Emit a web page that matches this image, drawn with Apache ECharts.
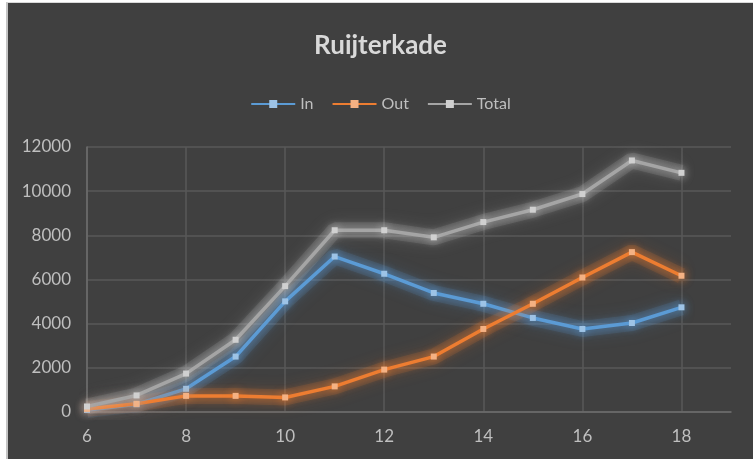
<!DOCTYPE html>
<html>
<head>
<meta charset="utf-8">
<script src="https://cdn.jsdelivr.net/npm/echarts@6/dist/echarts.min.js"></script>
<style>
  body { margin: 0; background: #fff; }
  #chart {
    position: absolute;
    left: 6px;
    top: 2px;
    width: 745px;
    height: 456px;
    border-left: 2px solid #c4c4c4;
    border-top: 1px solid #d9d9d9;
  }
</style>
</head>
<body>
<div id="chart"></div>
<script>
// hour of day
const hours = [6, 7, 8, 9, 10, 11, 12, 13, 14, 15, 16, 17, 18]
const inValues = [90, 350, 1050, 2510, 5010, 7040, 6260, 5390, 4900, 4260, 3760, 4030, 4740]
const outValues = [140, 370, 730, 730, 660, 1160, 1920, 2510, 3760, 4900, 6090, 7240, 6170]
const totalValues = [250, 750, 1740, 3270, 5700, 8230, 8230, 7910, 8600, 9160, 9870, 11390, 10830]
const yTicks = [0, 2000, 4000, 6000, 8000, 10000, 12000]

const labelColor = '#bfbfbf'
const gridColor = '#595959'
const axisColor = '#6e6e6e'
const fontFamily = 'Lato, "Open Sans", sans-serif'

// soft halo drawn under each line
const makeGlow = (name, values, glow) => ({
  name: name + ' glow',
  type: 'line',
  data: hours.map((h, i) => [h, values[i]]),
  symbol: 'none',
  silent: true,
  z: 1,
  lineStyle: {
    color: glow,
    width: 16,
    opacity: 0.13,
    shadowBlur: 16,
    shadowColor: glow
  }
})

const makeSeries = (name, values, color, markerColor, glow) => ({
  name: name,
  type: 'line',
  data: hours.map((h, i) => [h, values[i]]),
  symbol: 'rect',
  symbolSize: 6,
  z: 3,
  lineStyle: {
    color: color,
    width: 3.5,
    shadowBlur: 10,
    shadowColor: glow
  },
  itemStyle: {
    color: markerColor,
    shadowBlur: 10,
    shadowColor: glow
  },
  emphasis: { disabled: true }
})

const chart = echarts.init(document.getElementById('chart'))

chart.setOption({
  backgroundColor: '#404040',
  animation: false,
  textStyle: { fontFamily: fontFamily },
  title: {
    text: 'Ruijterkade',
    left: 'center',
    top: 25,
    textStyle: {
      color: '#d9d9d9',
      fontSize: 26,
      fontWeight: 'bold',
      fontFamily: fontFamily
    }
  },
  legend: {
    top: 88,
    left: 'center',
    itemWidth: 44,
    itemHeight: 10,
    itemGap: 18,
    textStyle: { color: labelColor, fontSize: 16, fontFamily: fontFamily },
    data: ['In', 'Out', 'Total']
  },
  grid: {
    left: 79,
    right: 22,
    top: 144,
    bottom: 47,
    containLabel: false
  },
  xAxis: {
    type: 'value',
    min: 6,
    max: 19,
    interval: 2,
    axisLine: { show: true, onZero: false, lineStyle: { color: axisColor, width: 1.5 } },
    axisTick: { show: false },
    axisLabel: {
      color: labelColor,
      fontSize: 17,
      margin: 16,
      showMaxLabel: false
    },
    splitLine: {
      show: true,
      showMaxLine: false,
      lineStyle: { color: gridColor, width: 1.5 }
    }
  },
  yAxis: {
    type: 'value',
    min: yTicks[0],
    max: yTicks[yTicks.length - 1],
    interval: yTicks[1] - yTicks[0],
    axisLine: { show: true, lineStyle: { color: axisColor, width: 1.5 } },
    axisTick: { show: false },
    axisLabel: {
      color: labelColor,
      fontSize: 17,
      margin: 16,
      formatter: (v) => String(v)
    },
    splitLine: {
      show: true,
      lineStyle: { color: gridColor, width: 1.5 }
    }
  },
  series: [
    makeGlow('In', inValues, '#5b9bd5'),
    makeGlow('Out', outValues, '#ed7d31'),
    makeGlow('Total', totalValues, '#c8c8c8'),
    makeSeries('In', inValues, '#5b9bd5', '#9dc3e6', 'rgba(91,155,213,1)'),
    makeSeries('Out', outValues, '#ed7d31', '#f4b183', 'rgba(237,125,49,1)'),
    makeSeries('Total', totalValues, '#a5a5a5', '#d0d0d0', 'rgba(210,210,210,0.9)')
  ]
})

window.addEventListener('resize', () => {
  chart.resize()
})
</script>
</body>
</html>
